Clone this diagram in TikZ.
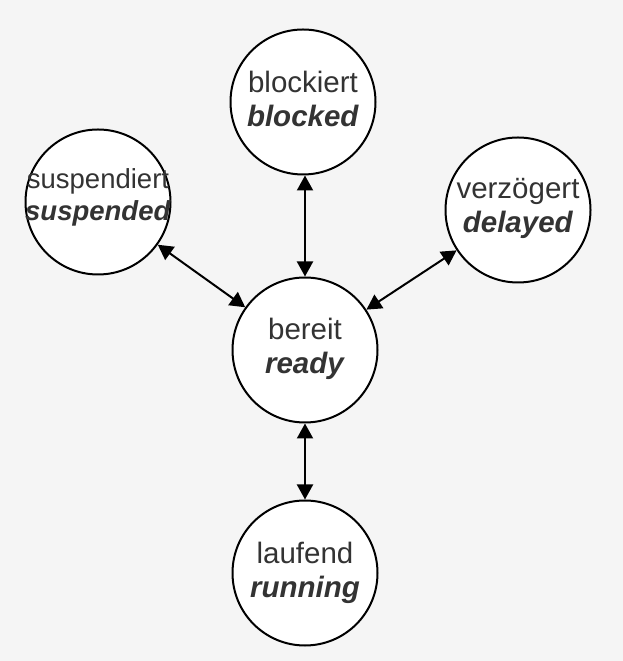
\documentclass[tikz,border=0pt]{standalone}
\usepackage{fontspec}
\setmainfont{Liberation Sans}
\usetikzlibrary{arrows.meta}
\definecolor{bgc}{HTML}{F5F5F5}
\definecolor{txt}{HTML}{333333}
\tikzset{
  state/.style={circle, draw=black, line width=2pt, fill=white, minimum size=145pt, inner sep=0pt},
  lbl/.style={align=center, text=txt, inner sep=0pt, font=\fontsize{29.5}{34}\selectfont},
  smalllbl/.style={lbl, font=\fontsize{27.5}{32}\selectfont},
  link/.style={line width=2pt, {Triangle[length=15pt,width=16pt]}-{Triangle[length=15pt,width=16pt]}}
}
\begin{document}
\begin{tikzpicture}[x=1pt,y=1pt]
\fill[bgc] (0,0) rectangle (623,661);
\useasboundingbox (0,0) rectangle (623,661);
\node[state] (blockiert) at (303,559) {};
\node[state] (suspendiert) at (98,459) {};
\node[state] (verzoegert) at (518,451) {};
\node[state] (bereit) at (305,311) {};
\node[state] (laufend) at (305,88) {};
\node[lbl, yshift=3pt] (blockiert-t) at (blockiert) {blockiert\\\textbf{\textit{blocked}}};
\node[smalllbl, yshift=5pt] (suspendiert-t) at (suspendiert) {suspendiert\\\textbf{\textit{suspended}}};
\node[lbl, yshift=1.5pt] (verzoegert-t) at (verzoegert) {verzögert\\\textbf{\textit{delayed}}};
\node[lbl, yshift=1.5pt] (bereit-t) at (bereit) {bereit\\\textbf{\textit{ready}}};
\node[lbl] (laufend-t) at (laufend) {laufend\\\textbf{\textit{running}}};
\draw[link] (bereit.north |- blockiert.south) -- (bereit.north);
\draw[link] (suspendiert) -- (bereit);
\draw[link] (verzoegert) -- (bereit);
\draw[link] (bereit) -- (laufend);
\end{tikzpicture}
\end{document}
